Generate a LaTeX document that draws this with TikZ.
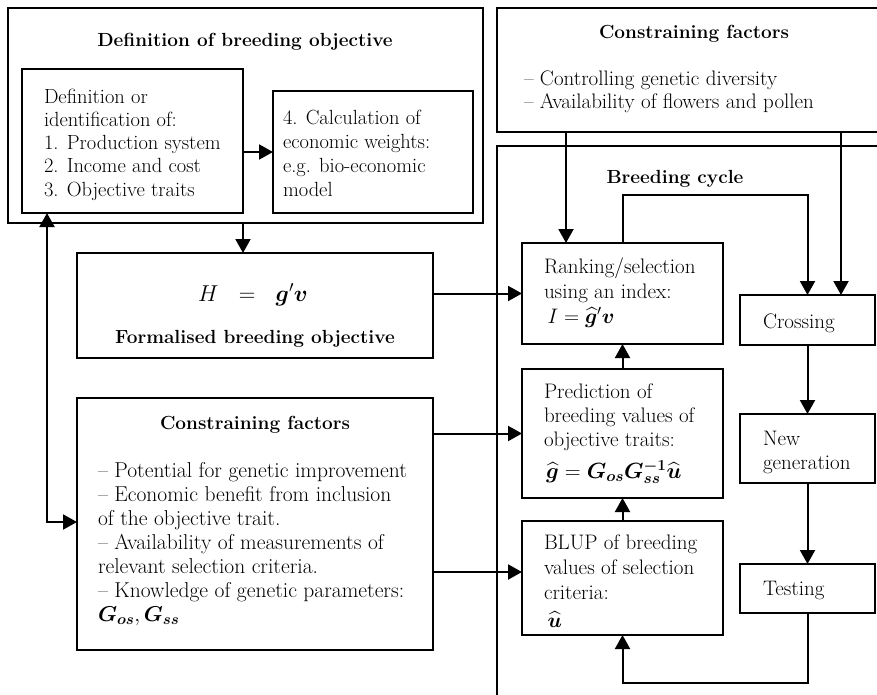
\RequirePackage{fix-cm}
\documentclass[tikz,border=0pt]{standalone}
\usepackage{amsmath,bm}
\usepackage{fontspec}
\usetikzlibrary{arrows.meta,calc}
\tikzset{
  box/.style={draw, line width=2pt, inner sep=0pt, outer sep=0pt},
  arr/.style={line width=2pt, -{Triangle[length=14pt,width=15pt]}},
  arrs/.style={line width=2pt, {Triangle[length=14pt,width=15pt]}-{Triangle[length=14pt,width=15pt]}},
  txt/.style={anchor=north west, inner sep=0pt, align=left},
  ttl/.style={anchor=base, inner sep=0pt, font=\fontsize{19}{23}\selectfont\bfseries},
  one/.style={anchor=base west, inner sep=0pt, font=\fontsize{21}{24}\selectfont}
}
\begin{document}
\begin{tikzpicture}[x=1pt,y=-1pt,line width=2pt]
\useasboundingbox (0,0) rectangle (877,694);
\clip (0,0) rectangle (877,694);
% boxes
\node[box, minimum width=475pt, minimum height=215pt] (defobj) at (245.5,115.5) {};
\node[box, minimum width=221pt, minimum height=144pt] (def1) at (132.5,141) {};
\node[box, minimum width=200pt, minimum height=122pt] (def2) at (373,152) {};
\node[box, minimum width=423pt, minimum height=124pt] (topcf) at (708.5,70) {};
\node[box, minimum width=423pt, minimum height=594pt] (cycle) at (708.5,443) {};
\node[box, minimum width=356pt, minimum height=105pt] (formal) at (255,305.5) {};
\node[box, minimum width=356pt, minimum height=252pt] (lowcf) at (255,524) {};
\node[box, minimum width=201pt, minimum height=101pt] (rank) at (622.5,293.5) {};
\node[box, minimum width=201pt, minimum height=129pt] (pred) at (622.5,433.5) {};
\node[box, minimum width=201pt, minimum height=114pt] (blup) at (622.5,578) {};
\node[box, minimum width=135pt, minimum height=50pt] (cross) at (807.5,320) {};
\node[box, minimum width=135pt, minimum height=69pt] (newgen) at (807.5,448.5) {};
\node[box, minimum width=135pt, minimum height=49pt] (test) at (807.5,588.5) {};
% texts
\node[ttl] (tdef) at (245,46) {Definition of breeding objective};
\node[txt, font=\fontsize{20.5}{23.3}\selectfont] (t1) at (43,85.7) {\strut Definition or\\identification of:\\1. Production system\\2. Income and cost\\3. Objective traits};
\node[txt, font=\fontsize{20.5}{24}\selectfont] (t2) at (282,106.2) {\strut 4. Calculation of\\economic weights:\\e.g. bio-economic\\model};
\node[ttl] (ttop) at (694,38) {Constraining factors};
\node[txt, font=\fontsize{21}{23}\selectfont] (ttopb) at (523,67.9) {\strut – Controlling genetic diversity\\– Availability of flowers and pollen};
\node[ttl] (tcyc) at (675,183) {Breeding cycle};
\node[anchor=base, inner sep=0pt, font=\fontsize{23}{28}\selectfont] (th) at (253,301) {$H\ \ =\ \ \bm{g}'\bm{v}$};
\node[ttl] (tform) at (255,343) {Formalised breeding objective};
\node[ttl] (tlow) at (255,429) {Constraining factors};
\node[txt, font=\fontsize{21.5}{24}\selectfont] (tlowb) at (97,459.2) {\strut – Potential for genetic improvement\\– Economic benefit from inclusion\\of the objective trait.\\– Availability of measurements of\\relevant selection criteria.\\– Knowledge of genetic parameters:\\$\bm{G}_{\bm{os}},\bm{G}_{\bm{ss}}$};
\node[txt, font=\fontsize{21}{25}\selectfont] (trank) at (543,254.5) {\strut Ranking/selection\\using an index:\\\,$I=\widehat{\bm{g}}'\bm{v}$};
\node[txt, font=\fontsize{21}{24}\selectfont] (tpred) at (543,380.2) {\strut Prediction of\\breeding values of\\objective traits:};
\node[one, font=\fontsize{22}{26}\selectfont] (tpredf) at (545,478) {$\widehat{\bm{g}}=\bm{G}_{\bm{os}}\bm{G}_{\bm{ss}}^{\bm{-1}}\widehat{\bm{u}}$};
\node[txt, font=\fontsize{21}{25}\selectfont] (tblup) at (543,530.5) {\strut BLUP of breeding\\values of selection\\criteria:\\[3pt]\,$\widehat{\bm{u}}$};
\node[one] (tcross) at (762,328) {Crossing};
\node[txt, font=\fontsize{21}{24}\selectfont] (tnew) at (762,427.2) {\strut New\\generation};
\node[one] (ttest) at (762,595) {Testing};
% connectors
\draw[arr] (def1.east |- def2.west) -- (def2.west);
\draw[arr] (def1.east |- defobj.south) -- (def1.east |- formal.north);
\draw[arr] (formal.east |- rank.west) -- (rank.west);
\draw[arr] (lowcf.east |- pred.west) -- (pred.west);
\coordinate (blupin) at ([yshift=6pt]blup.west);
\draw[arr] (lowcf.east |- blupin) -- (blupin);
\coordinate (xA) at (566,0);
\coordinate (xB) at (841,0);
\draw[arr] (topcf.south -| xA) -- (rank.north -| xA);
\draw[arr] (topcf.south -| xB) -- (cross.north -| xB);
\coordinate (yloop) at (0,195);
\coordinate (loop) at (cross.north |- yloop);
\draw[arr] (rank.north) |- (loop) -- (cross.north);
\draw[arr] (pred.north) -- (rank.south);
\draw[arr] (blup.north) -- (pred.south);
\draw[arr] (cross.south) -- (newgen.north);
\draw[arr] (newgen.south) -- (test.north);
\coordinate (ybot) at (0,683);
\coordinate (bot) at (test.south |- ybot);
\draw[arr] (test.south) -- (bot) -| (blup.south);
\coordinate (xlc) at (47,0);
\coordinate (ylc) at (0,522);
\coordinate (lc) at (xlc |- ylc);
\draw[arrs] (def1.south -| lc) -- (lc) -- (lc -| lowcf.west);
\end{tikzpicture}
\end{document}
